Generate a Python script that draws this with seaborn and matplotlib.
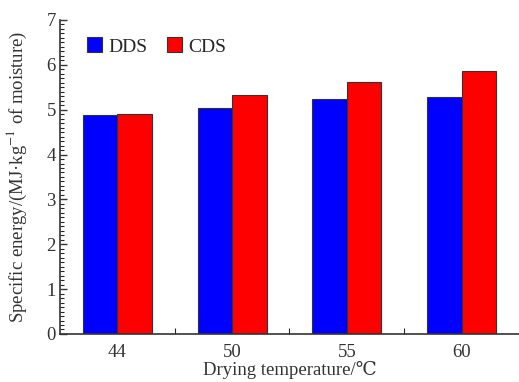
import matplotlib
matplotlib.use("Agg")
import matplotlib.pyplot as plt
import pandas as pd
import seaborn as sns
from matplotlib.ticker import MultipleLocator, FixedLocator

# Data
temperatures = ["44", "50", "55", "60"]
dds = [4.88, 5.03, 5.23, 5.29]
cds = [4.91, 5.32, 5.62, 5.86]

df = pd.DataFrame({
    "temp": temperatures * 2,
    "value": dds + cds,
    "method": ["DDS"] * 4 + ["CDS"] * 4,
})

sns.set_style("ticks")
plt.rcParams["font.family"] = ["Liberation Serif", "DejaVu Serif"]
plt.rcParams["mathtext.fontset"] = "stix"

fig = plt.figure(figsize=(5.19, 3.82), dpi=100)
ax = fig.add_axes([0.1156, 0.1257, 0.8844, 0.822])

sns.barplot(data=df, x="temp", y="value", hue="method",
            palette={"DDS": "#0000ff", "CDS": "#ff0000"},
            width=0.6, edgecolor="#333333", linewidth=0.8,
            saturation=1, ax=ax)

ax.set_xlim(-0.5, 3.5)
ax.set_ylim(0, 7)
ax.yaxis.set_major_locator(MultipleLocator(1))
ax.yaxis.set_minor_locator(MultipleLocator(0.1))
ax.xaxis.set_minor_locator(FixedLocator([0.5, 1.5, 2.5]))

ax.tick_params(axis="y", which="major", direction="in", length=5, width=1,
               labelsize=13.5, colors="#333333", pad=3)
ax.tick_params(axis="y", which="minor", direction="in", length=3, width=0.8)
ax.tick_params(axis="x", which="major", length=0, labelsize=13.5, pad=7,
               colors="#333333")
ax.tick_params(axis="x", which="minor", direction="in", length=4, width=0.8)

for s in ["top", "right"]:
    ax.spines[s].set_visible(False)
for s in ["left", "bottom"]:
    ax.spines[s].set_linewidth(1.2)
    ax.spines[s].set_color("#333333")

ax.set_xlabel("Drying temperature/\u2103", fontsize=13.5, color="#333333",
              labelpad=0)
ax.set_ylabel("Specific energy/(MJ\u00b7kg$^{-1}$ of moisture)", fontsize=13.5,
              color="#333333")
ax.yaxis.set_label_coords(-0.068, 0.5)

ax.legend(loc="upper left", ncol=2, frameon=False, fontsize=14,
          handlelength=0.8, handleheight=0.8, handletextpad=0.3,
          columnspacing=1.0, bbox_to_anchor=(0.02, 1.0), title=None)

fig.savefig("out.png", dpi=100)
